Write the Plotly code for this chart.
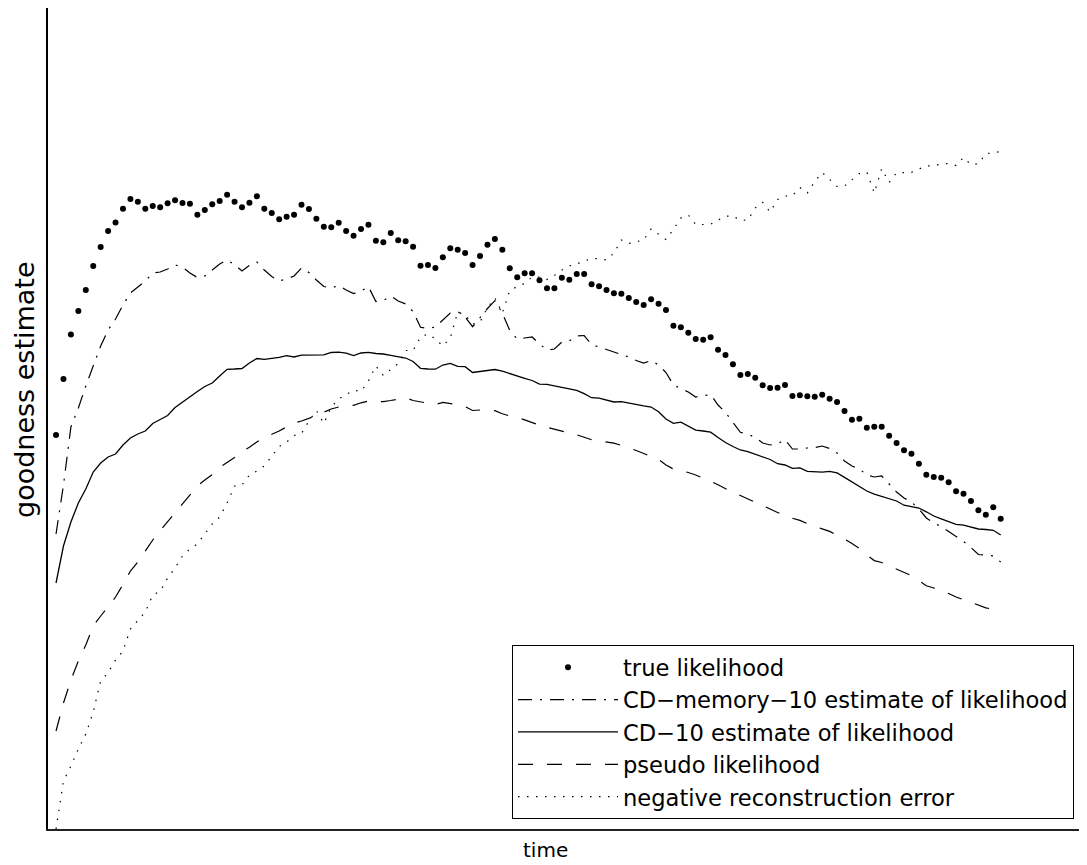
import plotly.graph_objects as go

# time steps
time = list(range(1, 129))

true_likelihood = [
    -435, -379, -334.5, -311, -290, -266, -247, -231, -222.5, -208.7,
    -199, -201.7, -208.7, -206, -207.3, -203.3, -200.3, -203, -203.7, -214.7,
    -210, -204.3, -201, -194.7, -201.7, -207.3, -202.7, -196.3, -208.7, -213,
    -219.3, -216.7, -214.7, -204.7, -209, -218.7, -226.7, -227.3, -222.7, -231,
    -235.7, -229, -224.7, -240.7, -242.3, -233, -240.3, -241.3, -246.7, -265.7,
    -265, -268, -257.3, -248.3, -249.7, -253, -265, -256, -244.7, -239,
    -249.7, -268.3, -277.3, -273.3, -273.3, -280.3, -288.3, -288.3, -277.7, -279.7,
    -274, -274, -284.3, -286.3, -290, -293.3, -293.7, -298, -302, -305,
    -299.3, -303.7, -310, -325.7, -327.3, -332.7, -339, -339.7, -337.3, -349.7,
    -355, -364.3, -375, -374, -377.7, -385.3, -388, -387.7, -385, -396,
    -395.3, -396.3, -396.7, -394.7, -398.7, -402, -411, -419.7, -418.7, -427.7,
    -426.7, -426.7, -435.7, -443, -450.3, -453.7, -463.7, -474.7, -477, -477.7,
    -482.3, -491.3, -493.7, -501, -510.3, -514.7, -507.3, -518.7,
]

cd_memory_10 = [
    -534, -485, -427, -408, -386, -366, -346, -330, -319, -305,
    -293, -287, -281, -273, -272, -269, -265, -267, -273, -277.5,
    -276, -270, -264, -260, -264.5, -271, -265.5, -262, -270, -276.5,
    -281, -279, -276, -268, -272.5, -280, -286.5, -288, -285.5, -290,
    -293.5, -291, -286.7, -301.5, -300.5, -296, -301, -304, -311.5, -327.3,
    -328.5, -327, -320, -313, -311.5, -317, -326.7, -317, -308.5, -300.7,
    -313, -330.5, -339, -338, -337, -344, -350, -349, -342, -340.8,
    -336, -335.5, -344.5, -347, -349.5, -352.5, -354.5, -357, -360.5, -363,
    -360.5, -365, -372.5, -385, -388.5, -392, -397, -395.5, -394.5, -405,
    -412.5, -422.3, -432.3, -434, -437.5, -443, -445, -444, -439.5, -449,
    -449, -448, -447.5, -446, -448.5, -453, -461, -466, -469, -475,
    -477, -476, -484.5, -492, -498, -502, -509, -518, -523, -526.5,
    -531.5, -536.5, -541.5, -547.5, -554.5, -555, -556, -562,
]

cd_10 = [
    -583, -546, -522, -503, -489, -472, -463, -457, -454, -445,
    -438, -434, -431, -423.5, -419.5, -415.5, -407.5, -402, -396.5, -391.5,
    -386.5, -383, -376, -369.3, -369, -368.5, -363, -358.5, -359.3, -358.5,
    -357.3, -355.7, -357, -355.2, -355.1, -355, -354.8, -352.5, -352.2, -353.2,
    -355.5, -353, -352.4, -353.5, -354, -355.3, -356.6, -358, -361.5, -368.3,
    -369, -369.2, -365, -363.4, -366.3, -366.7, -372.5, -371.5, -370.3, -369.5,
    -371.2, -373.8, -376.2, -378.3, -380.5, -384.2, -384.4, -385.8, -387, -388.7,
    -390.3, -393.7, -397.7, -398.2, -400.2, -402, -401.7, -403.3, -405, -405.9,
    -407, -411.7, -419, -423.3, -422.2, -426, -430.1, -431, -432.2, -437.5,
    -442.5, -446.5, -450, -451.6, -454, -456.8, -459.5, -463.7, -465, -468.4,
    -467.9, -471.3, -472, -472.1, -471.3, -472.9, -477.4, -481.9, -485.7, -491,
    -494.1, -496.6, -499.2, -501, -505.2, -506.5, -508, -511.8, -516, -518.8,
    -521.9, -524.4, -525.1, -527.1, -529, -529.5, -530.3, -535,
]

pseudo_likelihood = [
    -731, -703, -680, -661, -645, -626, -616, -606, -597, -584.5,
    -571, -562, -550.5, -540, -530.5, -521.5, -512, -503.5, -495, -486,
    -480, -474.5, -467.3, -462.3, -457.5, -451.5, -447.3, -441.9, -437.3, -434.3,
    -431, -426.8, -423, -421, -418.5, -415.6, -412.2, -409, -407, -406,
    -405.3, -402.8, -401, -401.5, -401.6, -400.5, -399.3, -397.8, -400.5, -402,
    -403.1, -404.6, -402.4, -403.5, -404.7, -406.7, -410.5, -410, -409.8, -410.7,
    -413.8, -416, -417.4, -419.9, -422.9, -425.2, -427.3, -429, -430.9, -432.8,
    -434.8, -437.3, -439.7, -441, -442, -443.1, -445.4, -447.8, -450.5, -453.5,
    -456.5, -459.5, -465, -469, -470.8, -472.5, -475, -477.8, -481.3, -484.8,
    -489, -492.5, -495.5, -498.7, -502.2, -505.3, -509, -512.5, -515.9, -518.3,
    -520.4, -523.5, -526.5, -528.9, -531.4, -534.8, -539, -543.5, -548.4, -555,
    -560.6, -562.5, -565.7, -569, -572.3, -575.7, -580.5, -585.7, -588, -590.5,
    -593.5, -597, -599.6, -602.6, -605.5, -607.8, -609.4, -615,
]

neg_reconstruction_error = [
    -829, -781, -766, -749, -734, -712, -681, -672.5, -660, -651,
    -629, -620, -612, -595, -591.5, -578, -568, -556, -549, -544,
    -533.5, -524, -517, -503, -486, -485, -475, -471, -466, -456,
    -446.5, -442, -435.5, -433.5, -421, -410.5, -423.5, -407, -399, -394.5,
    -390.2, -391.5, -381, -366, -375.5, -369.5, -363.5, -350.5, -350.5, -337,
    -334, -339, -346, -338, -312, -315, -324, -322, -307.5, -298,
    -313, -290.5, -286.5, -283.5, -277, -277, -279.5, -275.5, -270, -266,
    -264, -261, -258.7, -258.7, -260, -253, -240, -243.5, -241.5, -240,
    -229, -234.5, -239.5, -229.5, -218, -215, -224.5, -224.5, -224.3, -220,
    -216.2, -216, -220.5, -220, -208, -202.4, -212, -199.5, -196, -195.7,
    -187.5, -193, -181.5, -172.5, -180, -186.5, -186, -180, -173.5, -172,
    -193, -168.7, -182.5, -172.7, -172.7, -172.4, -169, -166, -165.5, -164,
    -163.5, -165.5, -157.5, -164.6, -163.8, -153.7, -152.8, -151.5,
]

series_names = [
    "true likelihood",
    "CD\u2212memory\u221210 estimate of likelihood",
    "CD\u221210 estimate of likelihood",
    "pseudo likelihood",
    "negative reconstruction error",
]

FONT = "DejaVu Sans, Liberation Sans, Arial, sans-serif"

fig = go.Figure()
fig.add_trace(go.Scatter(
    x=time, y=true_likelihood, mode="markers", name=series_names[0],
    marker=dict(symbol="circle", size=6, color="black"),
))
fig.add_trace(go.Scatter(
    x=time, y=cd_memory_10, mode="lines", name=series_names[1],
    line=dict(color="black", width=1.2, dash="14px,8px,2px,8px"),
))
fig.add_trace(go.Scatter(
    x=time, y=cd_10, mode="lines", name=series_names[2],
    line=dict(color="black", width=1.3),
))
fig.add_trace(go.Scatter(
    x=time, y=pseudo_likelihood, mode="lines", name=series_names[3],
    line=dict(color="black", width=1.2, dash="15px,14px"),
))
fig.add_trace(go.Scatter(
    x=time, y=neg_reconstruction_error, mode="lines", name=series_names[4],
    line=dict(color="black", width=1.2, dash="1.5px,7.5px"),
))

# The page adds an 8px body margin; the figure is sized so the
# plot area lands at page x 48..1087, y 8..829.
W, H = 1079, 857
L, R, T, B = 40, 0, 0, 36
PX0, PY0 = 48, 8          # page position of plot-area top-left
PW, PH = W - L - R, H - T - B


def px(xp):
    return (xp - PX0) / PW


def py(yp):
    return (PY0 + PH - yp) / PH


fig.update_layout(
    width=W, height=H,
    margin=dict(l=L, r=R, t=T, b=B, pad=0),
    paper_bgcolor="white", plot_bgcolor="white",
    font=dict(family=FONT, size=22.6, color="black"),
    showlegend=True,
    legend=dict(
        x=px(512), y=py(645),
        xanchor="left", yanchor="top",
        bordercolor="black", borderwidth=1, bgcolor="white",
        font=dict(family=FONT, size=22.6, color="black"),
        itemwidth=100, tracegroupgap=0,
    ),
    xaxis=dict(
        range=[-0.08, 139.6], showgrid=False, zeroline=False,
        showline=True, linecolor="#222222", linewidth=1.8,
        showticklabels=False, ticks="",
    ),
    yaxis=dict(
        range=[-829, -8], showgrid=False, zeroline=False,
        showline=True, linecolor="black", linewidth=1.5,
        showticklabels=False, ticks="",
    ),
    annotations=[
        dict(text="time", xref="paper", yref="paper",
             x=px(545), y=py(850),
             xanchor="center", yanchor="middle", showarrow=False,
             font=dict(family=FONT, size=20, color="black")),
        dict(text="goodness estimate", xref="paper", yref="paper",
             x=px(24), y=py(390),
             xanchor="center", yanchor="middle", showarrow=False, textangle=-90,
             font=dict(family=FONT, size=27, color="black")),
    ],
)

fig.write_html("out.html")
